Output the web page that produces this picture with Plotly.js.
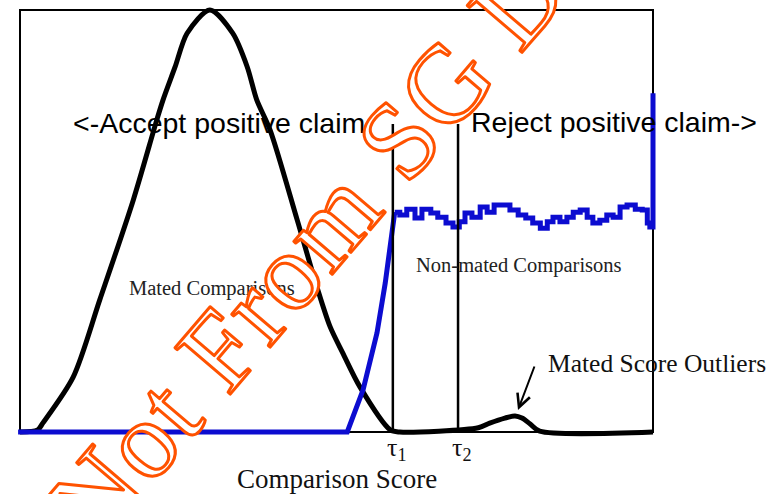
<!DOCTYPE html>
<html>
<head>
<meta charset="utf-8">
<script src="https://cdn.plot.ly/plotly-3.0.1.min.js"></script>
<style>
  html, body { margin: 0; padding: 0; background: #fff; }
  #chart { width: 770px; height: 494px; }
</style>
<style id="wmstyle"></style>
</head>
<body>
<div id="chart"></div>
<script>
// ---------------- data ----------------
// Comparison score (0..100 across the box) and relative frequency (0..100)
const matedX = [0, 2.8, 3.6, 8.4, 12.6, 17.9, 21.6, 22.6, 24.5, 26.4, 30.0, 33.6, 35.9, 37.4, 39.5, 43.8, 46.9, 49.0, 51.0, 53.7, 58.5, 60.0, 72.4, 74.2, 76.6, 78.2, 79.3, 80.6, 82.1, 100];
const matedY = [0, 0.5, 2.1, 13.0, 31.3, 55.0, 73.9, 78.7, 86.5, 94.5, 100, 94.5, 86.5, 78.7, 71.6, 50.2, 34.4, 24.9, 18.7, 10.7, 0.5, 0, 1.0, 2.1, 3.3, 3.8, 3.3, 1.9, 0.2, 0];

const nonMatedX = [-0.3, 51.7, 54.2, 56.4, 57.7, 58.8, 59.2, 60.0, 61.1, 62.4, 63.5, 64.9, 66.0, 67.3, 68.4, 69.4, 70.3, 71.4, 72.7, 73.8, 74.9, 76.2, 77.4, 78.7, 79.9, 81.0, 82.2, 83.3, 84.2, 85.3, 86.4, 87.4, 88.5, 89.6, 90.5, 91.6, 92.7, 93.7, 94.8, 95.9, 97.2, 98.3, 99.1, 99.5, 100];
const nonMatedY = [0, 0, 10.0, 23.5, 35.3, 47.2, 52.1, 51.4, 52.8, 50.7, 52.8, 51.9, 50.9, 49.5, 48.6, 49.8, 51.9, 50.9, 53.3, 52.1, 53.8, 53.8, 52.6, 51.4, 50.7, 49.5, 48.3, 49.8, 50.9, 49.8, 50.9, 52.1, 52.6, 50.9, 49.5, 50.2, 51.4, 50.9, 53.3, 53.8, 52.8, 52.6, 49.5, 48.6, 80.3];
const nonMatedRiseEnd = 6; // index where the steep rise meets the noisy plateau

const thresholdX = [58.9, 69.2];
const thresholdTop = 73.0;
const thresholdLabels = ['τ<sub>1</sub>', 'τ<sub>2</sub>'];

const xTitle = 'Comparison Score';
const acceptText = '<-Accept positive claim';
const rejectText = 'Reject positive claim->';
const matedLabel = 'Mated Comparisons';
const nonMatedLabel = 'Non-mated Comparisons';
const outlierLabel = 'Mated Score Outliers';
const watermarkText = 'Not From SG D';

// ---------------- layout geometry ----------------
const W = 770, H = 494;
const M = {l: 7, r: 104, t: 2, b: 54};
const BOX = {x0: 20, x1: 653, y0: 10, y1: 432};
const sx = (BOX.x1 - BOX.x0) / 100, sy = (BOX.y1 - BOX.y0) / 100;
const xRange = [(M.l - BOX.x0) / sx, (W - M.r - BOX.x0) / sx];
const yRange = [(BOX.y1 - (H - M.b)) / sy, (BOX.y1 - M.t) / sy];
const px = v => (v - M.l) / (W - M.l - M.r);
const py = v => (H - M.b - v) / (H - M.t - M.b);

const SANS = 'Liberation Sans, Arial, sans-serif';
const SERIF = 'Liberation Serif, Times New Roman, serif';
const BLUE = '#0c0cd0';

const traces = [
  {x: matedX, y: matedY, type: 'scatter', mode: 'lines',
   line: {color: '#000000', width: 5, shape: 'spline', smoothing: 0.8}, hoverinfo: 'skip'},
  {x: nonMatedX.slice(0, nonMatedRiseEnd + 1), y: nonMatedY.slice(0, nonMatedRiseEnd + 1), type: 'scatter', mode: 'lines',
   line: {color: BLUE, width: 5}, hoverinfo: 'skip'},
  {x: nonMatedX.slice(nonMatedRiseEnd), y: nonMatedY.slice(nonMatedRiseEnd), type: 'scatter', mode: 'lines',
   line: {color: BLUE, width: 5, shape: 'hv'}, hoverinfo: 'skip'}
];

const shapes = [
  {type: 'rect', xref: 'x', yref: 'y', x0: 0, x1: 100, y0: 0, y1: 100,
   line: {color: '#000', width: 2}, layer: 'below'}
];
thresholdX.forEach(t => shapes.push({type: 'line', xref: 'x', yref: 'y', x0: t, x1: t, y0: 0, y1: thresholdTop,
  line: {color: '#000', width: 2.5}, layer: 'above'}));

const annotations = [
  {text: acceptText, xref: 'paper', yref: 'paper', x: px(71), y: py(122.5), xanchor: 'left', yanchor: 'middle',
   showarrow: false, font: {family: SANS, size: 28.5, color: '#000'}},
  {text: rejectText, xref: 'paper', yref: 'paper', x: px(469), y: py(121.5), xanchor: 'left', yanchor: 'middle',
   showarrow: false, font: {family: SANS, size: 28.5, color: '#000'}},
  {text: matedLabel, xref: 'paper', yref: 'paper', x: px(127), y: py(288), xanchor: 'left', yanchor: 'middle',
   showarrow: false, font: {family: SERIF, size: 20.5, color: '#222'}},
  {text: nonMatedLabel, xref: 'paper', yref: 'paper', x: px(414), y: py(265), xanchor: 'left', yanchor: 'middle',
   showarrow: false, font: {family: SERIF, size: 20.5, color: '#222'}},
  {text: outlierLabel, xref: 'paper', yref: 'paper', x: px(546), y: py(363.5), xanchor: 'left', yanchor: 'middle',
   showarrow: false, font: {family: SERIF, size: 25.5, color: '#111'}},
  {text: '', xref: 'paper', yref: 'paper', x: px(518), y: py(410), ax: 17, ay: -45,
   showarrow: true, arrowhead: 5, arrowsize: 1.3, arrowwidth: 2, arrowcolor: '#000'},
  {text: xTitle, xref: 'paper', yref: 'paper', x: px(336.5), y: py(479), xanchor: 'center', yanchor: 'middle',
   showarrow: false, font: {family: SERIF, size: 27, color: '#111'}}
];
thresholdX.forEach((t, i) => annotations.push({text: thresholdLabels[i], xref: 'x', yref: 'paper', x: t, y: py(449),
  xshift: 4, xanchor: 'center', yanchor: 'middle', showarrow: false, font: {family: SERIF, size: 26, color: '#111'}}));
annotations.push({text: watermarkText, xref: 'paper', yref: 'paper', x: px(307), y: py(247),
  xanchor: 'center', yanchor: 'middle', textangle: -49.5, showarrow: false,
  font: {family: SERIF, size: 110, color: '#ffffff'}});

document.getElementById('wmstyle').textContent =
  '.annotation[data-index="' + (annotations.length - 1) + '"] .annotation-text {' +
  'stroke:#ff5200; stroke-width:3px; stroke-linejoin:round; letter-spacing:2px; }';

const layout = {
  width: W, height: H,
  margin: M,
  paper_bgcolor: '#fff', plot_bgcolor: '#fff',
  showlegend: false,
  xaxis: {range: xRange, visible: false, fixedrange: true},
  yaxis: {range: yRange, visible: false, fixedrange: true},
  shapes: shapes,
  annotations: annotations
};

Plotly.newPlot('chart', traces, layout, {staticPlot: true, displayModeBar: false});
</script>
</body>
</html>
